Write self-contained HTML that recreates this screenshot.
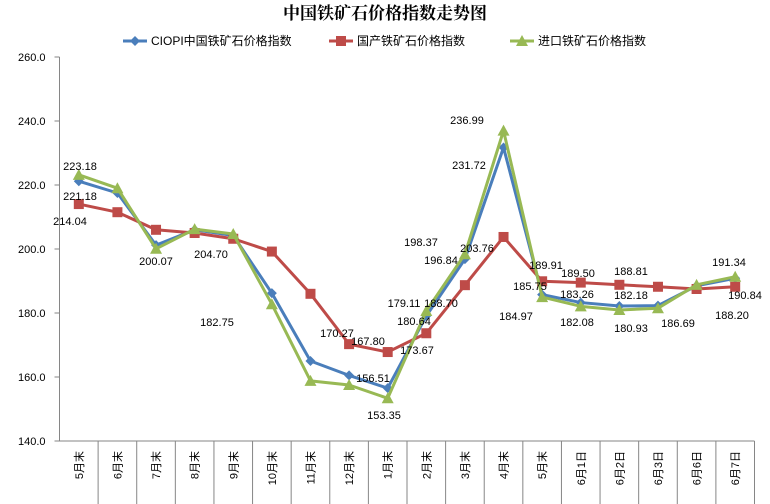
<!DOCTYPE html>
<html><head><meta charset="utf-8"><style>
body{margin:0;background:#fff;}
svg{display:block;font-family:"Liberation Sans","Noto Sans CJK SC",sans-serif;}
</style></head><body>
<svg id="c" width="770" height="504"></svg>
<script>
const categories=["5月末","6月末","7月末","8月末","9月末","10月末","11月末","12月末","1月末","2月末","3月末","4月末","5月末","6月1日","6月2日","6月3日","6月6日","6月7日"];
const ciopi=[221.18,217.5,201.2,206.0,204.2,186.2,165.0,160.5,156.51,179.11,196.84,231.72,185.75,183.26,182.18,182.3,188.5,190.84];
const domestic=[214.04,211.5,206.0,205.0,203.2,199.2,186.0,170.27,167.80,173.67,188.70,203.76,189.91,189.50,188.81,188.2,187.5,188.20];
const imported=[223.18,219.0,200.07,206.2,204.70,182.75,158.8,157.5,153.35,180.64,198.37,236.99,184.97,182.08,180.93,181.5,188.8,191.34];
const yTicks=[140,160,180,200,220,240,260];
const labels=[["223.18",80,166],["221.18",80,196],["214.04",70,221],["200.07",156,261],["204.70",211,254],["182.75",217,322],["170.27",337,333],["167.80",368,341],["156.51",373,378],["153.35",384,415],["179.11",404,303],["180.64",414,321],["173.67",417,350],["198.37",421,242],["196.84",441,260],["188.70",441,303],["236.99",467,120],["231.72",469,165],["203.76",477,248],["189.91",546,265],["185.75",530,286],["189.50",578,273],["183.26",577,294],["184.97",516,316],["182.08",577,322],["188.81",631,271],["182.18",631,295],["180.93",631,328],["186.69",678,323],["191.34",729,262],["190.84",745,295],["188.20",732,315]];
const NS="http://www.w3.org/2000/svg";
const svg=document.getElementById('c');
const L=59.5,R=754.5,T=57,B=441,ymin=140,ymax=260;
const cw=(R-L)/categories.length;
const x=i=>L+cw*(i+0.5);
const y=v=>B-(v-ymin)/(ymax-ymin)*(B-T);
function el(t,a,p){const e=document.createElementNS(NS,t);for(const k in a)e.setAttribute(k,a[k]);(p||svg).appendChild(e);return e;}
const title=el('text',{x:385,y:19,'text-anchor':'middle','font-size':17,'font-weight':'bold','font-family':'"Liberation Serif","Noto Serif CJK SC",serif'});
title.textContent="中国铁矿石价格指数走势图";


// axes
const ax=el('line',{x1:L,y1:T,x2:L,y2:B,stroke:'#868686'});


const xa=el('line',{x1:L,y1:B,x2:R,y2:B,stroke:'#868686'});


yTicks.forEach(v=>{
  const tk=el('line',{x1:L-5,y1:y(v),x2:L,y2:y(v),stroke:'#868686'});
  
  
  const t=el('text',{x:L-14,y:y(v)+4,'text-anchor':'end','font-size':11,fill:'#000'});
  t.textContent=v.toFixed(1);
  
  
});
categories.forEach((c,i)=>{
  const s=el('line',{x1:L+cw*(i+1),y1:B,x2:L+cw*(i+1),y2:504,stroke:'#868686'});
  
  
  const t=el('text',{transform:`translate(${x(i)+4},${B+10}) rotate(-90)`,'text-anchor':'end','font-size':11});
  t.textContent=c;
  
  
});
function marker(type,cx,cy,color,g){
  if(type==='d'){return el('polygon',{points:`${cx},${cy-5} ${cx+5},${cy} ${cx},${cy+5} ${cx-5},${cy}`,fill:color},g);}
  if(type==='s'){return el('rect',{x:cx-5,y:cy-5,width:10,height:10,fill:color},g);}
  return el('polygon',{points:`${cx},${cy-6} ${cx+6},${cy+5} ${cx-6},${cy+5}`,fill:color},g);
}
const series=[[ciopi,'#4a7ebb','d','ciopi'],[domestic,'#be4b48','s','domestic'],[imported,'#98b954','t','imported']];
series.forEach(([d,col,m,n])=>{
  const g=el('g',{});
  
  
  const ln=el('polyline',{points:d.map((v,i)=>x(i)+','+y(v)).join(' '),fill:'none',stroke:col,'stroke-width':3,'stroke-linejoin':'round'},g);
  
  
  d.forEach((v,i)=>{const mk=marker(m,x(i),y(v),col,g);
    
    });
});
labels.forEach(([t,lx,ly])=>{
  const e=el('text',{x:lx,y:ly+4,'text-anchor':'middle','font-size':11});
  e.textContent=t;
  
  
});
// legend
const leg=[["CIOPI中国铁矿石价格指数",'#4a7ebb','d',123],["国产铁矿石价格指数",'#be4b48','s',329],["进口铁矿石价格指数",'#98b954','t',510]];
leg.forEach(([t,col,m,lx])=>{
  const g=el('g',{});
  
  
  el('line',{x1:lx,y1:41,x2:lx+24,y2:41,stroke:col,'stroke-width':3},g);
  marker(m,lx+12,41,col,g);
  const tx=el('text',{x:lx+28,y:45,'font-size':12},g);
  tx.textContent=t;
});
</script>
</body></html>
